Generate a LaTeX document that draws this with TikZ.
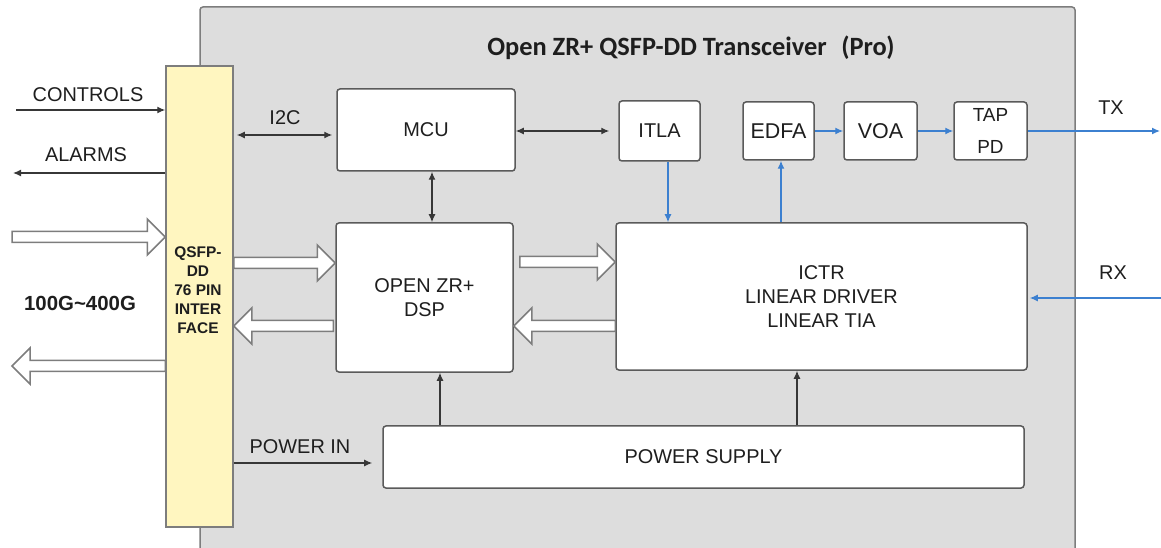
\documentclass[tikz,border=0pt]{standalone}
\usepackage{fontspec}
\setmainfont{Liberation Sans}
\newfontfamily\titlefont{Carlito}
\usetikzlibrary{arrows.meta,calc}

\definecolor{bggray}{RGB}{221,221,221}
\definecolor{edgegray}{RGB}{125,125,125}
\definecolor{boxedge}{RGB}{90,90,90}
\definecolor{ylw}{RGB}{255,246,192}
\definecolor{txt}{RGB}{30,30,30}
\definecolor{lineblue}{RGB}{60,128,208}
\definecolor{linedark}{RGB}{55,55,55}

\tikzset{
  blk/.style={draw=boxedge, fill=white, line width=1.5bp, rounded corners=3bp, inner sep=0pt,
    align=center, text=txt, font=\fontsize{20}{24}\selectfont},
  tip/.tip={Latex[length=8bp,width=7bp]},
  arr/.style={draw=linedark, line width=1.3bp, -tip},
  darr/.style={draw=linedark, line width=1.3bp, tip-tip},
  barr/.style={draw=lineblue, line width=1.3bp, -tip},
  lbl/.style={text=txt, font=\fontsize{20}{24}\selectfont, inner sep=0pt},
  fatbox/.style={draw=edgegray, fill=white, line width=1.5bp, line join=miter},
}

% fat block arrow from #1 to tip #2 (same y); #3 = 1 (rightwards) or -1 (leftwards)
\newcommand{\fatarrow}[3]{%
  \draw[fatbox] ($(#1)+(0,-5.5)$) -- ($(#2)+({-18*#3},-5.5)$) -- ($(#2)+({-18*#3},-18)$)
    -- (#2) -- ($(#2)+({-18*#3},18)$) -- ($(#2)+({-18*#3},5.5)$) -- ($(#1)+(0,5.5)$) -- cycle;}

\begin{document}
\begin{tikzpicture}[x=1bp,y=-1bp]
\useasboundingbox (0,0) rectangle (1161,548);

% outer module
\fill[bggray, rounded corners=3bp] (200,552) -- (200,7) -- (1075,7) -- (1075,552) -- cycle;
\draw[edgegray, line width=1.5bp, rounded corners=3bp] (200,552) -- (200,7) -- (1075,7) -- (1075,552);

\node[text=txt, font=\titlefont\bfseries\fontsize{26.5}{30}\selectfont, inner sep=0pt] (title) at (691,48)
  {Open ZR+ QSFP-DD Transceiver\hspace{0.55em}(Pro)};

% interface
\node[draw=edgegray, fill=ylw, line width=1.5bp, minimum width=67bp, minimum height=461bp, inner sep=0pt]
  (qsfp) at (199.5,296.5) {};
\node[text=txt, font=\bfseries\fontsize{15.5}{19}\selectfont, align=center, inner sep=0pt]
  (qsfptxt) at (198,290) {QSFP-\\DD\\76 PIN\\INTER\\FACE};

% blocks
\node[blk, minimum width=178bp, minimum height=82bp] (mcu) at (426,130) {MCU};
\node[blk, minimum width=177bp, minimum height=149bp] (dsp) at (424.5,297.5) {OPEN ZR+\\DSP};
\node[blk, minimum width=81bp, minimum height=60bp] (itla) at (659.5,131) {ITLA};
\node[blk, minimum width=71bp, minimum height=58bp, font=\fontsize{21.5}{24}\selectfont] (edfa) at (778.5,131) {EDFA};
\node[blk, minimum width=73bp, minimum height=58bp, font=\fontsize{21.5}{24}\selectfont] (voa) at (880.5,131) {VOA};
\node[blk, minimum width=73bp, minimum height=58bp, font=\fontsize{19}{33}\selectfont] (tap) at (990.5,131) {TAP\\PD};
\node[blk, minimum width=411bp, minimum height=147bp] (ictr) at (821.5,296.5) {ICTR\\LINEAR DRIVER\\LINEAR TIA};
\node[blk, minimum width=641bp, minimum height=62bp] (ps) at (703.5,457) {POWER SUPPLY};

% labels
\node[lbl] (lctrl) at (88,95) {CONTROLS};
\node[lbl] (lalarm) at (86,155) {ALARMS};
\node[lbl] (li2c) at (285,118) {I2C};
\node[lbl, font=\bfseries\fontsize{20.5}{24}\selectfont] (lrate) at (80,303) {100G\textasciitilde400G};
\node[lbl] (lpow) at (300,447) {POWER IN};
\node[lbl] (ltx) at (1111,108) {TX};
\node[lbl] (lrx) at (1113,273) {RX};

% free ends
\coordinate (ctrlS) at (16,110);
\coordinate (alarmE) at (13,173);
\coordinate (txE) at (1160,131);
\coordinate (rxS) at (1161,298);
\coordinate (yI2C) at (0,135);
\coordinate (yMI) at (0,131);
\coordinate (yPow) at (0,463);

% control connectors
\draw[arr] (ctrlS) -- (ctrlS -| qsfp.west);
\draw[arr] (qsfp.west |- alarmE) -- (alarmE);
\draw[darr] ($(qsfp.east |- yI2C)+(3,0)$) -- ($(mcu.west |- yI2C)+(-4,0)$);
\draw[darr] (mcu.east |- yMI) -- ($(itla.west |- yMI)+(-9,0)$);
\draw[darr] (432,0 |- mcu.south) -- (432,0 |- dsp.north);
\draw[arr] ($(qsfp.east |- yPow)$) -- ($(ps.west |- yPow)+(-10,0)$);
\draw[arr] (440,0 |- ps.north) -- (440,0 |- dsp.south);
\draw[arr] (797,0 |- ps.north) -- (797,0 |- ictr.south);

% optical connectors
\draw[barr] (668,0 |- itla.south) -- (668,0 |- ictr.north);
\draw[barr] (781,0 |- ictr.north) -- (781,0 |- edfa.south);
\draw[barr] (edfa.east) -- (voa.west);
\draw[barr] (voa.east) -- (tap.west);
\draw[barr] (tap.east) -- (txE);
\draw[barr] (rxS) -- ($(ictr.east |- rxS)+(2,0)$);

% fat data arrows
\coordinate (inS) at (12,237);
\coordinate (inT) at (qsfp.west |- inS);
\fatarrow{inS}{inT}{1}
\coordinate (outS) at (qsfp.west |- 0,366);
\coordinate (outT) at (12,366);
\fatarrow{outS}{outT}{-1}
\coordinate (hA) at (qsfp.east |- 0,263);
\coordinate (hB) at (dsp.west |- 0,263);
\fatarrow{hA}{hB}{1}
\coordinate (hC) at ($(dsp.west |- 0,326)+(-2,0)$);
\coordinate (hD) at (qsfp.east |- 0,326);
\fatarrow{hC}{hD}{-1}
\coordinate (lA) at ($(dsp.east |- 0,262)+(6,0)$);
\coordinate (lB) at (ictr.west |- 0,262);
\fatarrow{lA}{lB}{1}
\coordinate (lC) at (ictr.west |- 0,326);
\coordinate (lD) at (dsp.east |- 0,326);
\fatarrow{lC}{lD}{-1}
\end{tikzpicture}
\end{document}
